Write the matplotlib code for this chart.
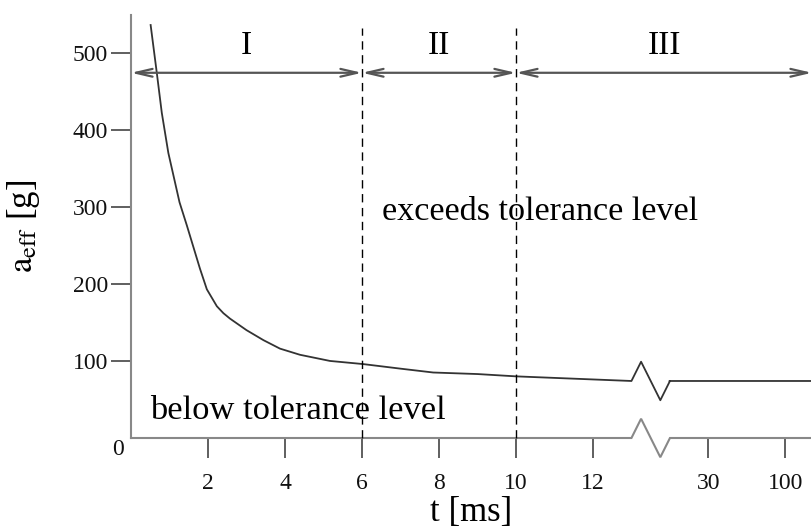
import numpy as np
import matplotlib
matplotlib.use("Agg")
import matplotlib.pyplot as plt

plt.rcParams['font.family'] = ['Liberation Serif', 'DejaVu Serif']
plt.rcParams['mathtext.fontset'] = 'stix'

# effective acceleration limit vs. exposure time
t_ms = [0.51, 0.67, 0.80, 0.97, 1.26, 1.45, 1.62, 1.79, 1.97, 2.23, 2.4, 2.57, 3.0,
        3.44, 3.87, 4.39, 5.17, 6.02, 7.0, 7.85, 9.0, 10.0, 11.5, 13.0]
a_eff = [536, 474, 422, 370, 306, 276, 248, 220, 193, 171, 162, 155, 140,
         127, 116, 108, 100, 96, 90, 85, 83, 80, 77, 74]
# long-duration plateau (after the axis break)
t_long = [16.4, 152]
a_long = [74, 74]

phase_bounds = [0, 6, 10]
phase_names = ['I', 'II', 'III']
x_ticks = [2, 4, 6, 8, 10, 12, 30, 100]
y_ticks = [100, 200, 300, 400, 500]

# broken x axis: linear up to 13 ms, short gap, then logarithmic
DEC = 2 / np.log10(100 / 30)
T_B = 30 * 10 ** (-1 / DEC)


def fwd(t):
    t = np.asarray(t, dtype=float)
    lin2 = 13 + (t - 13) / (T_B - 13)
    logp = 15 + DEC * (np.log10(np.maximum(t, 1e-9)) - np.log10(30))
    return np.where(t <= 13, t, np.where(t <= T_B, lin2, logp))


def inv(p):
    p = np.asarray(p, dtype=float)
    lin2 = 13 + (p - 13) * (T_B - 13)
    logt = 30 * 10 ** ((p - 15) / DEC)
    return np.where(p <= 13, p, np.where(p <= 14, lin2, logt))


P_END = 17.69
t_end = float(inv(P_END))

fig = plt.figure(figsize=(8.12, 5.29), dpi=100)
ax = fig.add_axes([131 / 812, 91 / 529, 681 / 812, 423 / 529])
ax.set_xscale('function', functions=(fwd, inv))
ax.set_xlim(0, t_end)
ax.set_ylim(0, 549)

for s in ['top', 'right', 'bottom']:
    ax.spines[s].set_visible(False)
ax.spines['left'].set_color('#888888')
ax.spines['left'].set_linewidth(1.5)

# bottom axis line with break mark
zig_p = np.array([13, 13.25, 13.75, 14])
zig_dy = np.array([0, 25, -25, 0])
zig_t = inv(zig_p)
ax.plot(np.concatenate([[0], zig_t, [t_end]]),
        np.concatenate([[0], zig_dy, [0]]),
        color='#888888', lw=1.5, clip_on=False, solid_joinstyle='miter')

# curve, with the same break mark
curve_t = np.concatenate([t_ms, zig_t[1:], t_long])
curve_a = np.concatenate([a_eff, a_eff[-1] + zig_dy[1:], a_long])
ax.plot(curve_t, curve_a, color='#333333', lw=1.3, clip_on=False)

# phase boundaries
for tb in phase_bounds[1:]:
    ax.plot([tb, tb], [0, 532], color='black', lw=1.0,
            linestyle=(0, (6, 4)), clip_on=False)

edges = phase_bounds + [t_end]
for i, name in enumerate(phase_names):
    ax.annotate('', xy=(edges[i], 474), xytext=(edges[i + 1], 474),
                arrowprops=dict(arrowstyle='<->,head_length=1.2,head_width=0.28',
                                color='#555555', lw=1.6, shrinkA=0, shrinkB=0,
                                mutation_scale=10),
                annotation_clip=False)
    mid = float(inv((fwd(edges[i]) + fwd(edges[i + 1])) / 2))
    ax.text(mid, 498, name, ha='center', va='baseline', fontsize=24)

ax.text(6.52, 283, 'exceeds tolerance level', ha='left', va='baseline', fontsize=24.6)
ax.text(0.49, 25, 'below tolerance level', ha='left', va='baseline', fontsize=24.8)

ax.set_xticks(x_ticks)
ax.set_xticklabels([str(v) for v in x_ticks])
ax.set_yticks(y_ticks)
ax.set_yticklabels([str(v) for v in y_ticks])
ax.minorticks_off()
ax.tick_params(axis='both', direction='out', length=14.4, width=1.2,
               color='#444444', labelsize=17, labelcolor='#111111')
ax.tick_params(axis='x', pad=11)
ax.tick_params(axis='y', pad=2)
ax.annotate('0', xy=(0, 0), xytext=(-9.4, -8.6), textcoords='offset points',
            ha='center', va='center', fontsize=17, color='#111111',
            annotation_clip=False)

ax.set_xlabel('t [ms]', fontsize=25, labelpad=1)
ax.set_ylabel(r'$\mathrm{a}_{\mathrm{eff}}$ [g]', fontsize=25, labelpad=22)

fig.savefig('out.png', dpi=100)
